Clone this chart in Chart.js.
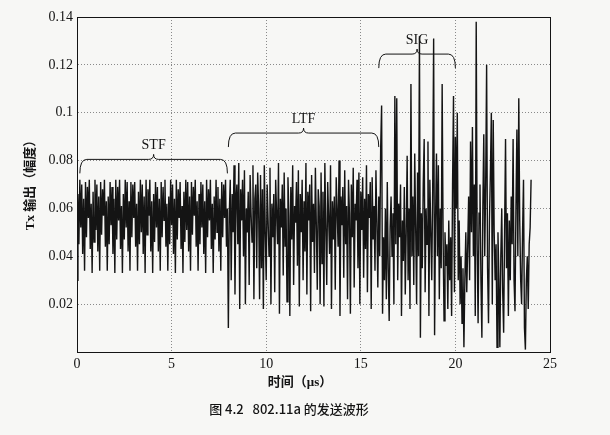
<!DOCTYPE html>
<html>
<head>
<meta charset="utf-8">
<script src="https://cdn.jsdelivr.net/npm/chart.js@4/dist/chart.umd.min.js"></script>
<style>
  html, body { margin: 0; padding: 0; background: #f7f7f5; }
  #wrap { width: 610px; height: 435px; }
</style>
</head>
<body>
<div id="wrap"><canvas id="wave"></canvas></div>
<script>
// sample spacing in microseconds (20 MHz)
var sampleStep = 0.05;

// short training field, 0 - 8 us
var stfAmp = [
  .030,.066,.045,.072,.052,.070,.041,.064,.034,.071,.048,.069,.056,.072,.043,.062,
  .033,.067,.046,.072,.051,.070,.042,.065,.034,.071,.049,.068,.057,.072,.044,.063,
  .034,.065,.045,.071,.053,.069,.041,.064,.033,.072,.047,.069,.055,.072,.043,.061,
  .033,.066,.047,.072,.052,.071,.042,.063,.034,.071,.048,.070,.056,.071,.044,.062,
  .034,.067,.045,.072,.050,.070,.041,.065,.033,.072,.049,.068,.057,.072,.042,.063,
  .033,.066,.046,.071,.052,.069,.042,.064,.034,.071,.048,.069,.055,.072,.044,.062,
  .034,.065,.045,.072,.053,.070,.041,.064,.033,.072,.047,.068,.056,.071,.043,.061,
  .033,.067,.046,.072,.051,.071,.042,.065,.034,.071,.049,.069,.057,.072,.044,.063,
  .034,.066,.045,.071,.052,.070,.041,.063,.033,.072,.048,.068,.055,.072,.043,.062,
  .033,.065,.047,.072,.050,.069,.042,.064,.034,.071,.048,.070,.056,.072,.044,.060
];

// long training field, 8 - 16 us
var ltfAmp = [
  .010,.058,.072,.030,.066,.050,.078,.024,.063,.070,.045,.079,.018,.068,.055,.072,
  .040,.076,.020,.060,.050,.067,.028,.074,.058,.046,.078,.022,.064,.070,.035,.075,
  .060,.022,.074,.035,.068,.018,.078,.050,.030,.070,.055,.040,.077,.020,.062,.048,
  .066,.025,.072,.058,.045,.079,.016,.064,.052,.070,.032,.075,.044,.060,.021,.073,
  .057,.015,.069,.047,.078,.028,.061,.054,.071,.036,.076,.019,.066,.050,.072,.030,
  .063,.042,.079,.024,.067,.055,.070,.017,.074,.046,.062,.033,.077,.053,.026,.068,
  .061,.020,.075,.037,.067,.019,.079,.052,.028,.071,.056,.041,.078,.018,.063,.047,
  .065,.026,.073,.059,.044,.080,.015,.065,.053,.069,.031,.076,.045,.061,.022,.072,
  .058,.016,.070,.048,.077,.027,.062,.055,.072,.035,.075,.020,.067,.051,.073,.031,
  .064,.043,.078,.025,.066,.056,.071,.018,.073,.047,.061,.034,.076,.054,.027,.065
];

// SIGNAL symbol, 16 - 20 us
var sigAmp = [
  .040,.085,.103,.016,.048,.030,.060,.022,.071,.035,.013,.052,.065,.040,.058,.020,
  .107,.045,.106,.030,.062,.048,.070,.015,.055,.038,.069,.024,.050,.082,.030,.060,
  .018,.112,.040,.065,.028,.083,.052,.020,.075,.040,.132,.006,.058,.035,.070,.089,
  .025,.060,.045,.088,.015,.072,.050,.030,.068,.131,.007,.055,.083,.040,.078,.022,
  .060,.035,.112,.048,.013,.050,.036,.045,.018,.055,.030,.048,.015,.070,.107,.025
];

// first data symbol, 20 - 24 us
var dataAmp = [
  .090,.060,.100,.030,.055,.020,.040,.012,.035,.002,.030,.050,.025,.044,.065,.030,
  .088,.050,.094,.040,.070,.015,.138,.045,.012,.058,.070,.030,.006,.060,.091,.040,
  .070,.120,.035,.012,.055,.075,.100,.020,.097,.050,.030,.045,.002,.050,.030,.002,
  .040,.060,.025,.008,.050,.089,.035,.058,.015,.055,.030,.065,.045,.089,.030,.017,
  .060,.093,.040,.106,.055,.030,.020,.050,.072,.010,.001,.030,.040,.018,.045,.052,
  .072
];

var xTicks = [0, 5, 10, 15, 20, 25];
var yTicks = [0, 0.02, 0.04, 0.06, 0.08, 0.1, 0.12, 0.14];

var braces = [
  { label: 'STF', from: 0.15, to: 7.95, level: 0.0805 },
  { label: 'LTF', from: 8.0, to: 15.95, level: 0.0915 },
  { label: 'SIG', from: 15.95, to: 20.0, level: 0.1245 }
];

var amp = stfAmp.concat(ltfAmp, sigAmp, dataAmp);
var points = amp.map(function (v, i) {
  return { x: +(i * sampleStep).toFixed(2), y: v };
});

var ink = '#141414';
var serif = '"Liberation Serif", "Noto Sans CJK SC", serif';

function drawBrace(ctx, x1, x2, y, drop) {
  var xm = (x1 + x2) / 2;
  ctx.beginPath();
  ctx.moveTo(x1, y + drop);
  ctx.quadraticCurveTo(x1, y, x1 + 7, y);
  ctx.lineTo(xm - 5, y);
  ctx.quadraticCurveTo(xm, y, xm, y - 5);
  ctx.quadraticCurveTo(xm, y, xm + 5, y);
  ctx.lineTo(x2 - 7, y);
  ctx.quadraticCurveTo(x2, y, x2, y + drop);
  ctx.stroke();
}

var decor = {
  id: 'decor',
  beforeDraw: function (chart) {
    var ctx = chart.ctx;
    ctx.save();
    ctx.fillStyle = '#f7f7f5';
    ctx.fillRect(0, 0, chart.width, chart.height);
    ctx.restore();
  },
  afterDraw: function (chart) {
    var ctx = chart.ctx, a = chart.chartArea;
    var xs = chart.scales.x, ys = chart.scales.y;
    ctx.save();
    ctx.strokeStyle = ink;
    ctx.lineWidth = 1;
    ctx.strokeRect(a.left + 0.5, a.top + 0.5, a.right - a.left, a.bottom - a.top);

    // braces over the preamble parts
    ctx.font = '14px ' + serif;
    ctx.fillStyle = ink;
    ctx.textAlign = 'center';
    ctx.textBaseline = 'bottom';
    braces.forEach(function (b) {
      var x1 = xs.getPixelForValue(b.from), x2 = xs.getPixelForValue(b.to);
      var y = ys.getPixelForValue(b.level);
      ctx.lineWidth = 1;
      drawBrace(ctx, x1, x2, y, 14);
      ctx.fillText(b.label, (x1 + x2) / 2, y - 7);
    });

    // axis titles and figure caption
    ctx.save();
    ctx.translate(31, 182);
    ctx.rotate(-Math.PI / 2);
    ctx.textBaseline = 'middle';
    ctx.font = '600 13px ' + serif;
    ctx.fillText('Tx 输出（幅度）', 0, 0);
    ctx.restore();

    ctx.textBaseline = 'middle';
    ctx.font = '600 13px ' + serif;
    ctx.fillText('时间（μs）', 300, 383);
    ctx.font = '500 13px "Noto Sans CJK SC", sans-serif';
    ctx.fillText('图 4.2   802.11a 的发送波形', 289, 409);
    ctx.restore();
  }
};

new Chart(document.getElementById('wave'), {
  type: 'line',
  data: {
    datasets: [{
      data: points,
      borderColor: ink,
      borderWidth: 1.4,
      pointRadius: 0,
      tension: 0,
      fill: false
    }]
  },
  options: {
    responsive: true,
    maintainAspectRatio: false,
    animation: false,
    layout: { padding: { left: 0, right: 60, top: 17, bottom: 0 } },
    plugins: { legend: { display: false }, tooltip: { enabled: false } },
    scales: {
      x: {
        type: 'linear',
        min: xTicks[0],
        max: xTicks[xTicks.length - 1],
        afterBuildTicks: function (s) { s.ticks = xTicks.map(function (v) { return { value: v }; }); },
        afterFit: function (s) { s.height = 83; },
        ticks: { color: ink, padding: 4, font: { family: serif, size: 14 } },
        grid: { color: '#8a8a8a', drawTicks: false },
        border: { color: ink, width: 1, dash: [1, 2] }
      },
      y: {
        min: yTicks[0],
        max: yTicks[yTicks.length - 1],
        afterBuildTicks: function (s) { s.ticks = yTicks.map(function (v) { return { value: v }; }); },
        afterFit: function (s) { s.width = 77; },
        ticks: {
          color: ink, padding: 4, font: { family: serif, size: 14 },
          callback: function (v) { return v === 0 ? '' : String(+v.toFixed(2)); }
        },
        grid: { color: '#8a8a8a', drawTicks: false },
        border: { color: ink, width: 1, dash: [1, 2] }
      }
    }
  },
  plugins: [decor]
});
</script>
</body>
</html>
